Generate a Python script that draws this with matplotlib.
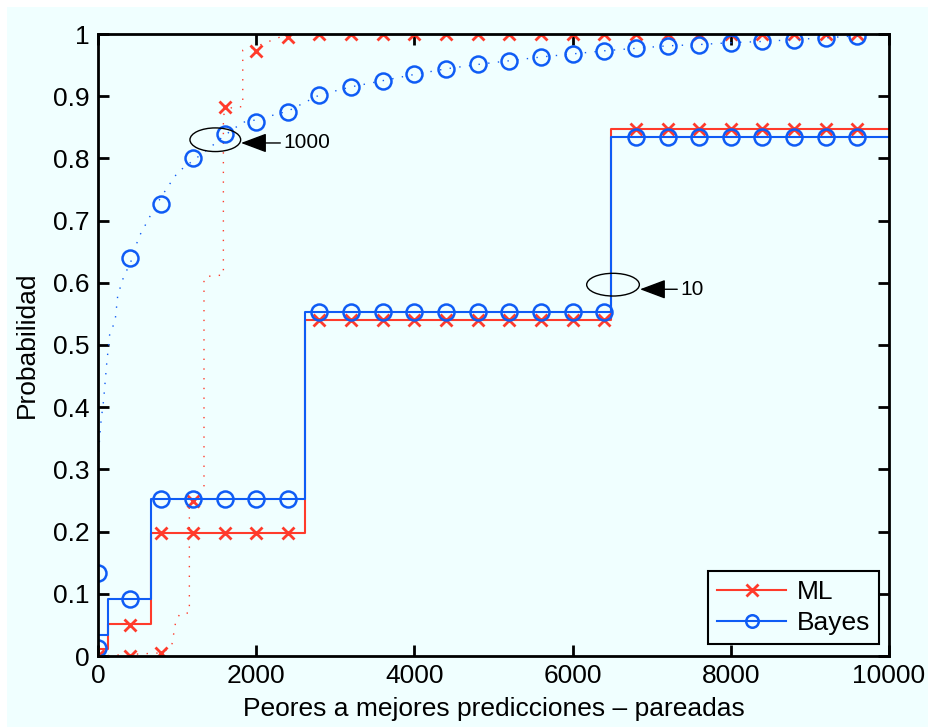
import numpy as np
import matplotlib
matplotlib.use('Agg')
import matplotlib.pyplot as plt
from matplotlib.patches import Ellipse, Rectangle
from matplotlib.lines import Line2D

plt.rcParams['font.family'] = ['Liberation Sans', 'DejaVu Sans']

# Data
# --- curves for "10" (solid steps) ---
ml10_step_x = [0, 130, 670, 2620, 6490, 10000]
ml10_step_y = [0.012, 0.052, 0.198, 0.540, 0.848, 0.848]
bayes10_step_x = [0, 0, 130, 670, 2620, 6490, 10000]
bayes10_step_y = [0.015, 0.034, 0.092, 0.252, 0.553, 0.835, 0.835]

marker_x = list(range(0, 10000, 400))
ml10_marks = [0.0, 0.05] + [0.198] * 5 + [0.540] * 10 + [0.848] * 8
bayes10_marks = [0.013, 0.092] + [0.252] * 5 + [0.553] * 10 + [0.835] * 8

# --- curves for "1000" (dotted) ---
ml1000_x = [0, 800, 930, 986, 1045, 1155, 1155, 1210, 1340, 1340, 1450,
            1585, 1585, 1700, 1830, 1830, 2000, 2160, 2400, 10000]
ml1000_y = [0, 0.005, 0.015, 0.058, 0.069, 0.069, 0.25, 0.26, 0.272, 0.608,
            0.612, 0.612, 0.870, 0.883, 0.883, 0.974, 0.980, 0.988, 1.0, 1.0]
ml1000_marks = [0.0, 0.0, 0.005, 0.25, 0.883, 0.972, 0.995] + [1.0] * 18

bayes1000_x = [0, 0, 20, 40, 70, 110, 150, 215, 250, 320, 440, 510, 620, 720,
               870, 1010, 1290, 1450, 1580, 1830, 2000, 2400, 2800, 3200, 3600,
               4000, 4400, 4800, 5200, 5600, 6000, 6400, 6800, 7200, 7600,
               8000, 8400, 8800, 9200, 9600, 10000]
bayes1000_y = [0, 0.30, 0.35, 0.38, 0.41, 0.47, 0.52, 0.537, 0.58, 0.608,
               0.641, 0.672, 0.698, 0.722, 0.752, 0.778, 0.805, 0.821, 0.835,
               0.858, 0.862, 0.876, 0.902, 0.915, 0.925, 0.935, 0.944, 0.951,
               0.957, 0.963, 0.968, 0.973, 0.977, 0.981, 0.983, 0.986, 0.988,
               0.991, 0.994, 0.997, 1.0]
bayes1000_marks = [0.134, 0.640, 0.727, 0.800, 0.840, 0.859, 0.874, 0.902,
                   0.915, 0.925, 0.935, 0.944, 0.951, 0.957, 0.963, 0.968,
                   0.973, 0.977, 0.981, 0.983, 0.986, 0.988, 0.991, 0.994, 0.997]

x_ticks = [0, 2000, 4000, 6000, 8000, 10000]
y_ticks = [0, 0.1, 0.2, 0.3, 0.4, 0.5, 0.6, 0.7, 0.8, 0.9, 1.0]
y_tick_labels = ['0', '0.1', '0.2', '0.3', '0.4', '0.5', '0.6', '0.7', '0.8', '0.9', '1']

red = '#ff3b2b'
blue = '#0f5cf5'
bg = '#f0ffff'

fig = plt.figure(figsize=(9.29, 7.27), dpi=100, facecolor='white')
# cyan figure background (white strip on top/left like the reference)
fig.patches.append(Rectangle((7 / 929, 0), 1, 1 - 7 / 727, transform=fig.transFigure,
                             facecolor=bg, edgecolor='none', zorder=-10))

ax = fig.add_axes([98 / 929, 71 / 727, 791 / 929, 622 / 727])
ax.set_facecolor(bg)

dotted = (0, (1, 6))

# ML (red)
ax.plot(ml10_step_x, ml10_step_y, drawstyle='steps-post', color=red, lw=1.5)
ax.plot(marker_x, ml10_marks, ls='none', marker='x', ms=8, mew=2, color=red)
ax.plot(ml1000_x, ml1000_y, color=red, lw=1, ls=dotted)
ax.plot(marker_x, ml1000_marks, ls='none', marker='x', ms=8, mew=2, color=red)

# Bayes (blue)
ax.plot(bayes10_step_x, bayes10_step_y, drawstyle='steps-post', color=blue, lw=1.5)
ax.plot(marker_x, bayes10_marks, ls='none', marker='o', ms=11.5, mew=1.8,
        mfc='none', color=blue)
ax.plot(bayes1000_x, bayes1000_y, color=blue, lw=1, ls=dotted)
ax.plot(marker_x, bayes1000_marks, ls='none', marker='o', ms=11.5, mew=1.8,
        mfc='none', color=blue)

# ellipses + arrows marking the two groups
ax.add_patch(Ellipse((1483, 0.830), 641, 0.038, fill=False, edgecolor='k', lw=1, zorder=5))
ax.add_patch(Ellipse((6511, 0.597), 666, 0.0365, fill=False, edgecolor='k', lw=1, zorder=5))
arrow = dict(arrowstyle='-|>,head_length=0.8,head_width=0.3', color='k', lw=1,
             mutation_scale=20, shrinkA=0, shrinkB=0)
ax.annotate('1000', xy=(1808, 0.8248), xytext=(2340, 0.8248), fontsize=15,
            va='center', ha='left', arrowprops=arrow)
ax.annotate('10', xy=(6852, 0.5896), xytext=(7358, 0.5896), fontsize=15,
            va='center', ha='left', arrowprops=arrow)

ax.set_xlim(0, 10000)
ax.set_ylim(0, 1)
ax.set_xticks(x_ticks)
ax.set_xticklabels([str(t) for t in x_ticks])
ax.set_yticks(y_ticks)
ax.set_yticklabels(y_tick_labels)
ax.tick_params(direction='in', length=8, width=2, labelsize=19, pad=6,
               top=True, right=True)
for s in ax.spines.values():
    s.set_linewidth(2)

ax.set_xlabel('Peores a mejores predicciones – pareadas', fontsize=19, labelpad=6)
ax.set_ylabel('Probabilidad', fontsize=19, labelpad=10)

handles = [Line2D([], [], color=red, lw=1.5, marker='x', ms=8, mew=2),
           Line2D([], [], color=blue, lw=1.5, marker='o', ms=9, mew=1.8, mfc='none')]
leg = ax.legend(handles, ['ML', 'Bayes'], loc='lower right',
                bbox_to_anchor=(0.9874, 0.0193), borderaxespad=0, fontsize=19,
                fancybox=False, framealpha=1, facecolor=bg, edgecolor='k',
                handlelength=2.6, handletextpad=0.4, borderpad=0.35,
                labelspacing=0.25)
leg.get_frame().set_linewidth(1.5)

fig.savefig('out.png', dpi=100, facecolor=fig.get_facecolor())
